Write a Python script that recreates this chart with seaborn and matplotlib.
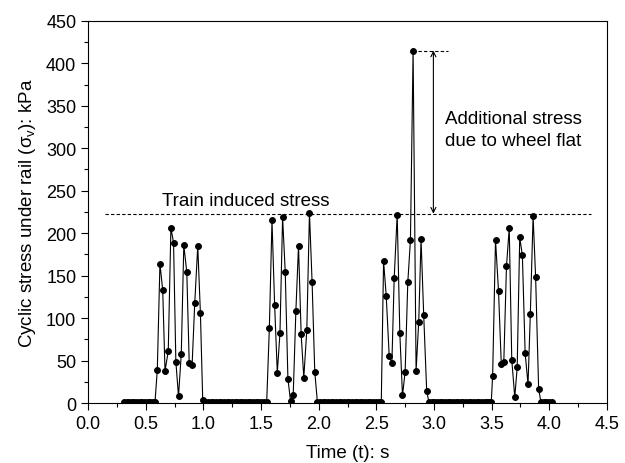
import matplotlib
matplotlib.use("Agg")
from matplotlib import pyplot as plt
import numpy as np
import pandas as pd
import seaborn as sns
from matplotlib.ticker import MultipleLocator

# measured stress record under the rail (time in s, stress in kPa)
time_s = [
    # quiet before first bogie
    0.310, 0.333, 0.356, 0.379, 0.402, 0.425, 0.448, 0.471, 0.494, 0.517, 0.540, 0.563,
    # passage 1
    0.580, 0.600, 0.623, 0.647, 0.667, 0.695, 0.718, 0.741, 0.761, 0.784, 0.808, 0.830,
    0.856, 0.877, 0.902, 0.925, 0.951, 0.974, 0.994,
    # quiet
    1.017, 1.040, 1.063, 1.086, 1.109, 1.132, 1.155, 1.178, 1.201, 1.224, 1.247, 1.270,
    1.293, 1.316, 1.339, 1.362, 1.385, 1.408, 1.431, 1.454, 1.477, 1.500, 1.526,
    # passage 2
    1.549, 1.572, 1.595, 1.618, 1.641, 1.664, 1.687, 1.710, 1.733, 1.756, 1.779, 1.802,
    1.825, 1.848, 1.871, 1.897, 1.920, 1.943, 1.966, 1.989,
    # quiet
    2.012, 2.035, 2.058, 2.081, 2.104, 2.127, 2.150, 2.173, 2.196, 2.219, 2.242, 2.265,
    2.288, 2.311, 2.334, 2.357, 2.380, 2.403, 2.426, 2.449, 2.472, 2.495, 2.520,
    # passage 3 (wheel flat)
    2.543, 2.563, 2.586, 2.612, 2.635, 2.655, 2.681, 2.704, 2.727, 2.750, 2.773, 2.796,
    2.819, 2.845, 2.868, 2.888, 2.911, 2.937, 2.957,
    # quiet
    2.980, 3.003, 3.026, 3.049, 3.072, 3.095, 3.118, 3.141, 3.164, 3.187, 3.210, 3.233,
    3.256, 3.279, 3.302, 3.325, 3.348, 3.371, 3.394, 3.417, 3.440, 3.463, 3.480,
    # passage 4
    3.497, 3.509, 3.534, 3.560, 3.584, 3.606, 3.629, 3.653, 3.675, 3.701, 3.722, 3.744,
    3.767, 3.791, 3.816, 3.836, 3.860, 3.882, 3.908, 3.928,
    # quiet after
    3.951, 3.974, 3.997, 4.020,
]

stress_kpa = [
    1, 1, 1, 1, 1, 1, 1, 1, 1, 1, 1, 1,
    1, 39, 164, 133, 38, 61, 206, 189, 49, 8, 58, 186,
    154, 47, 45, 118, 185, 106, 4,
    1, 1, 1, 1, 1, 1, 1, 1, 1, 1, 1, 1,
    1, 1, 1, 1, 1, 1, 1, 1, 1, 1, 1,
    1, 88, 215, 115, 36, 82, 219, 154, 29, 2, 9, 108,
    185, 81, 30, 86, 224, 142, 37, 1,
    1, 1, 1, 1, 1, 1, 1, 1, 1, 1, 1, 1,
    1, 1, 1, 1, 1, 1, 1, 1, 1, 1, 1,
    1, 167, 126, 55, 47, 147, 222, 82, 9, 37, 142, 192,
    415, 38, 96, 193, 104, 14, 1,
    1, 1, 1, 1, 1, 1, 1, 1, 1, 1, 1, 1,
    1, 1, 1, 1, 1, 1, 1, 1, 1, 1, 1,
    1, 32, 192, 132, 46, 49, 161, 206, 51, 7, 42, 195,
    174, 59, 22, 105, 220, 148, 17, 1,
    1, 1, 1, 1,
]

train_stress = 223
flat_peak = 415

df = pd.DataFrame({"t": time_s, "stress": stress_kpa})

sns.set_style("ticks")
plt.rcParams["font.family"] = ["Liberation Sans", "DejaVu Sans"]
plt.rcParams["mathtext.fontset"] = "custom"
plt.rcParams["mathtext.rm"] = "Liberation Sans"
plt.rcParams["mathtext.it"] = "Liberation Sans"
plt.rcParams["text.color"] = "black"
plt.rcParams["axes.labelcolor"] = "black"
plt.rcParams["xtick.color"] = "black"
plt.rcParams["ytick.color"] = "black"

fig = plt.figure(figsize=(6.25, 4.64), dpi=100)
ax = fig.add_axes([0.141, 0.129, 0.830, 0.824])

sns.lineplot(data=df, x="t", y="stress", ax=ax, color="black", linewidth=0.8,
             marker="o", markersize=4.2, markeredgecolor="black", markerfacecolor="black")

# reference lines
ax.plot([0.15, 4.36], [train_stress, train_stress], ls=(0, (3, 2)), color="black", lw=0.8)
ax.plot([2.86, 3.12], [flat_peak, flat_peak], ls=(0, (3, 2)), color="black", lw=0.8)
ax.annotate("", xy=(2.995, flat_peak), xytext=(2.995, train_stress),
            arrowprops=dict(arrowstyle="<->", color="black", lw=0.8,
                            shrinkA=0, shrinkB=0, mutation_scale=9))

ax.text(0.64, 229, "Train induced stress", fontsize=13.5, ha="left", va="bottom")
ax.text(3.1, 322, "Additional stress\ndue to wheel flat", fontsize=13.5,
        ha="left", va="center", linespacing=1.4)

ax.set_xlim(0, 4.5)
ax.set_ylim(0, 450)
ax.xaxis.set_major_locator(MultipleLocator(0.5))
ax.xaxis.set_minor_locator(MultipleLocator(0.25))
ax.yaxis.set_major_locator(MultipleLocator(50))
ax.yaxis.set_minor_locator(MultipleLocator(25))
ax.xaxis.set_major_formatter(matplotlib.ticker.FormatStrFormatter("%.1f"))
ax.tick_params(which="major", direction="out", length=5, width=0.8, labelsize=13)
ax.tick_params(which="minor", direction="out", length=3, width=0.8)
for sp in ax.spines.values():
    sp.set_linewidth(0.8)
    sp.set_color("black")

ax.set_xlabel("Time (t): s", fontsize=13.5, labelpad=9)
ax.set_ylabel(r"Cyclic stress under rail ($\sigma_v$): kPa", fontsize=13.5, labelpad=6)

fig.savefig("out.png", dpi=100)
